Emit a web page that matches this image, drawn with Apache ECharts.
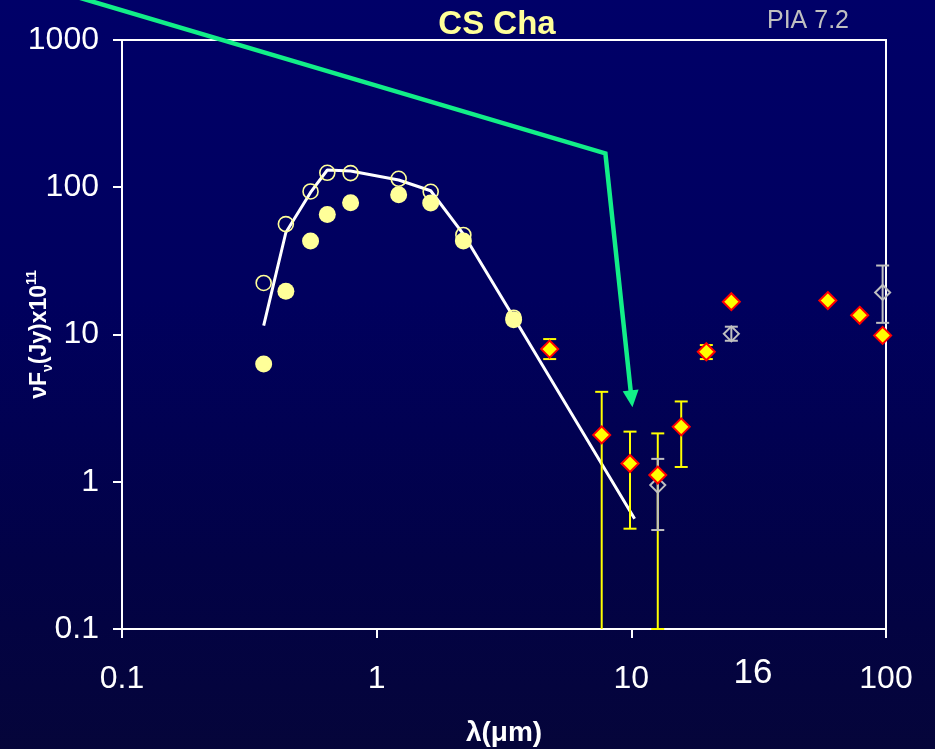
<!DOCTYPE html>
<html>
<head>
<meta charset="utf-8">
<script src="https://cdn.jsdelivr.net/npm/echarts@6/dist/echarts.min.js"></script>
<style>
  html, body { margin: 0; padding: 0; }
  #chart {
    width: 935px; height: 749px;
    background: linear-gradient(to bottom, #000068 0%, #00005e 40%, #020246 75%, #05053a 100%);
  }
</style>
</head>
<body>
<div id="chart"></div>
<script>
// ---- data ----
const xTickLabels = ['0.1', '1', '10', '100'];
const yTickLabels = ['0.1', '1', '10', '100', '1000'];

// optical / near-IR photometric bands (micron)
const bandLambda = [0.36, 0.44, 0.55, 0.64, 0.79, 1.22, 1.63, 2.19, 3.45];
// open circles (dereddened photometry)
const openFlux = [22.4, 56.2, 93.6, 125.4, 124.8, 114.2, 93.2, 47.4, 13.0];
// filled circles (observed photometry)
const filledFlux = [6.3, 19.7, 43.1, 65.3, 78.5, 89.0, 78.1, 43.1, 12.6];

// photosphere model (white line)
const modelLambda = [0.36, 0.44, 0.55, 0.64, 0.79, 1.22, 1.63, 2.19, 3.45, 10.3];
const modelFlux = [11.5, 49.3, 92.2, 131, 129, 112, 94.7, 48.1, 13.1, 0.56];

// ISO photometry (yellow diamonds) with error ranges (0 = down to zero)
const isoLambda = [4.78, 7.65, 9.88, 12.7, 15.7, 19.7, 24.7, 59.1, 78.8, 97];
const isoFlux = [7.96, 2.08, 1.33, 1.11, 2.36, 7.64, 16.7, 17.0, 13.5, 9.86];
const isoLow = [6.81, 0, 0.48, 0.1, 1.26, 6.81, null, null, null, null];
const isoHigh = [9.31, 4.08, 2.19, 2.13, 3.51, 8.48, null, null, null, null];

// IRAS photometry (grey open diamonds)
const irasLambda = [12.7, 24.7, 97];
const irasFlux = [0.949, 10.1, 19.3];
const irasLow = [0.47, 9.07, 12];
const irasHigh = [1.43, 11.3, 29.4];

// green annotation arrow path (data coordinates)
const arrowLambda = [0.0569, 7.91, 10.1];
const arrowFlux = [2123, 169.6, 3.2];

// ---- chart ----
const chart = echarts.init(document.getElementById('chart'), null, { renderer: 'canvas' });
const FONT = '"Liberation Sans", Arial, sans-serif';

function pairs(xs, ys) { return xs.map((x, i) => [x, ys[i]]); }
function errData(xs, lo, hi) {
  const out = [];
  xs.forEach((x, i) => { if (hi[i] != null) out.push([x, lo[i], hi[i]]); });
  return out;
}
function errRender(color) {
  return function (params, api) {
    const cs = params.coordSys;
    const bottom = cs.y + cs.height;
    const x = api.value(0), lo = api.value(1), hi = api.value(2);
    const pHi = api.coord([x, hi]);
    const px = pHi[0];
    let yLo, capLo = true;
    if (!(lo > 0)) { yLo = bottom; capLo = false; }
    else {
      yLo = api.coord([x, lo])[1];
      if (yLo > bottom + 0.5) { yLo = bottom; capLo = false; }
    }
    const half = 6.5;
    const st = { stroke: color, lineWidth: 2 };
    const children = [
      { type: 'line', shape: { x1: px, y1: pHi[1], x2: px, y2: yLo }, style: st },
      { type: 'line', shape: { x1: px - half, y1: pHi[1], x2: px + half, y2: pHi[1] }, style: st }
    ];
    if (capLo) children.push({ type: 'line', shape: { x1: px - half, y1: yLo, x2: px + half, y2: yLo }, style: st });
    return { type: 'group', children: children };
  };
}

const option = {
  backgroundColor: 'transparent',
  animation: false,
  grid: {
    left: 122, right: 49, top: 40, bottom: 120, containLabel: false, outerBoundsMode: 'none',
    show: true, borderColor: '#ffffff', borderWidth: 2
  },
  xAxis: {
    type: 'log', logBase: 10, min: 0.1, max: 100,
    name: 'λ(μm)', nameLocation: 'middle', nameGap: 90, nameMoveOverlap: false,
    nameTextStyle: { color: '#ffffff', fontSize: 28, fontWeight: 'bold', fontFamily: FONT },
    axisLine: { show: true, lineStyle: { color: '#ffffff', width: 2 } },
    axisTick: { show: true, inside: false, length: 9, lineStyle: { color: '#ffffff', width: 2 } },
    minorTick: { show: false },
    splitLine: { show: false },
    axisLabel: {
      color: '#ffffff', fontSize: 32, fontFamily: FONT, margin: 34,
      formatter: function (v) {
        const s = String(+(+v).toPrecision(6));
        return xTickLabels.indexOf(s) >= 0 ? s : '';
      }
    }
  },
  yAxis: {
    type: 'log', logBase: 10, min: 0.1, max: 1000,
    name: '{a|νF}{s|ν}{a|(Jy)x10}{p|11}', nameLocation: 'middle', nameGap: 67, nameRotate: 90, nameMoveOverlap: false,
    nameTextStyle: {
      color: '#ffffff', fontFamily: FONT,
      rich: {
        a: { color: '#ffffff', fontSize: 23, fontWeight: 'bold', fontFamily: FONT, lineHeight: 30 },
        s: { color: '#ffffff', fontSize: 14, fontWeight: 'bold', fontFamily: FONT, lineHeight: 30, verticalAlign: 'bottom', padding: [8, 0, 0, 0] },
        p: { color: '#ffffff', fontSize: 14, fontWeight: 'bold', fontFamily: FONT, lineHeight: 30, verticalAlign: 'top', padding: [0, 0, 14, 0] }
      }
    },
    axisLine: { show: true, lineStyle: { color: '#ffffff', width: 2 } },
    axisTick: { show: true, inside: false, length: 9, lineStyle: { color: '#ffffff', width: 2 } },
    minorTick: { show: false },
    splitLine: { show: false },
    axisLabel: {
      color: '#ffffff', fontSize: 32, fontFamily: FONT, margin: 23,
      formatter: function (v) {
        const s = String(+(+v).toPrecision(6));
        return yTickLabels.indexOf(s) >= 0 ? s : '';
      }
    }
  },
  graphic: [
    { type: 'text', x: 497, y: 25, style: { text: 'CS Cha', fill: '#ffff99', font: 'bold 33px "Liberation Sans", Arial, sans-serif', textAlign: 'center', textVerticalAlign: 'middle' } },
    { type: 'text', x: 808, y: 21, style: { text: 'PIA 7.2', fill: '#c0c0c0', font: '25px "Liberation Sans", Arial, sans-serif', textAlign: 'center', textVerticalAlign: 'middle' } },
    { type: 'text', x: 753, y: 673, style: { text: '16', fill: '#ffffff', font: '35px "Liberation Sans", Arial, sans-serif', textAlign: 'center', textVerticalAlign: 'middle' } }
  ],
  series: [
    {
      name: 'model', type: 'line', data: pairs(modelLambda, modelFlux),
      showSymbol: false, symbol: 'none', z: 2,
      lineStyle: { color: '#ffffff', width: 3, opacity: 1 }
    },
    {
      name: 'isoErr', type: 'custom', renderItem: errRender('#ffff00'),
      data: errData(isoLambda, isoLow, isoHigh), encode: { x: 0, y: 2 }, z: 3, clip: false
    },
    {
      name: 'irasErr', type: 'custom', renderItem: errRender('#c0c0c0'),
      data: errData(irasLambda, irasLow, irasHigh), encode: { x: 0, y: 2 }, z: 3, clip: false
    },
    {
      name: 'open', type: 'scatter', data: pairs(bandLambda, openFlux), z: 4,
      symbol: 'circle', symbolSize: 15,
      itemStyle: { color: 'rgba(0,0,0,0)', borderColor: '#ffff99', borderWidth: 1.6, opacity: 1 }
    },
    {
      name: 'filled', type: 'scatter', data: pairs(bandLambda, filledFlux), z: 5,
      symbol: 'circle', symbolSize: 17,
      itemStyle: { color: '#ffff99', opacity: 1 }
    },
    {
      name: 'iras', type: 'scatter', data: pairs(irasLambda, irasFlux), z: 5,
      symbol: 'diamond', symbolSize: [15, 15],
      itemStyle: { color: 'rgba(0,0,0,0)', borderColor: '#c0c0c0', borderWidth: 2, opacity: 1 }
    },
    {
      name: 'iso', type: 'scatter', data: pairs(isoLambda, isoFlux), z: 6,
      symbol: 'diamond', symbolSize: [17, 17],
      itemStyle: { color: '#ffff00', borderColor: '#ff0000', borderWidth: 2, opacity: 1 }
    },
    {
      name: 'arrow', type: 'custom', clip: false, z: 7,
      data: pairs(arrowLambda, arrowFlux), encode: { x: 0, y: 1 },
      renderItem: function (params, api) {
        if (params.dataIndex !== 0) return null;
        const pts = arrowLambda.map((x, i) => api.coord([x, arrowFlux[i]]));
        const tip = pts[pts.length - 1];
        const prev = pts[pts.length - 2];
        const dx = tip[0] - prev[0], dy = tip[1] - prev[1];
        const len = Math.sqrt(dx * dx + dy * dy);
        const ux = dx / len, uy = dy / len;
        const L = 17, W = 8;
        const base = [tip[0] - ux * L, tip[1] - uy * L];
        const line = pts.slice(0, -1).concat([[base[0] + ux * 2, base[1] + uy * 2]]);
        return {
          type: 'group',
          children: [
            { type: 'polyline', shape: { points: line }, style: { stroke: '#12ee88', lineWidth: 4.5, fill: null, lineJoin: 'miter' } },
            { type: 'polygon', shape: { points: [tip, [base[0] - uy * W, base[1] + ux * W], [base[0] + uy * W, base[1] - ux * W]] }, style: { fill: '#12ee88' } }
          ]
        };
      }
    }
  ]
};
chart.setOption(option);
</script>
</body>
</html>
